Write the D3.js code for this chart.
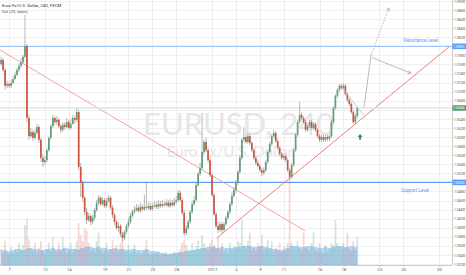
<!DOCTYPE html>
<html><head><meta charset="utf-8">
<script src="https://cdn.jsdelivr.net/npm/d3@7"></script>
<style>html,body{margin:0;padding:0;background:#fff;overflow:hidden}</style>
</head><body><svg id="c" width="466" height="275"></svg>
<script>
const open=[1.0761,1.0770,1.0748,1.0713,1.0717,1.0713,1.0719,1.0728,1.0737,1.0748,
1.0757,1.0765,1.0777,1.0801,1.0642,1.0602,1.0611,1.0598,1.0609,1.0622,
1.0594,1.0554,1.0545,1.0549,1.0571,1.0598,1.0624,1.0642,1.0633,1.0638,
1.0624,1.0616,1.0627,1.0622,1.0633,1.0620,1.0629,1.0642,1.0638,1.0655,
1.0534,1.0499,1.0466,1.0435,1.0417,1.0426,1.0413,1.0422,1.0439,1.0455,
1.0466,1.0452,1.0461,1.0448,1.0459,1.0466,1.0444,1.0428,1.0413,1.0399,
1.0404,1.0386,1.0377,1.0391,1.0404,1.0413,1.0426,1.0435,1.0439,1.0444,
1.0437,1.0446,1.0441,1.0446,1.0444,1.0448,1.0441,1.0448,1.0450,1.0446,
1.0452,1.0448,1.0452,1.0450,1.0455,1.0448,1.0455,1.0450,1.0457,1.0461,
1.0477,1.0461,1.0433,1.0388,1.0399,1.0413,1.0435,1.0452,1.0461,1.0494,
1.0519,1.0532,1.0567,1.0589,1.0571,1.0549,1.0516,1.0472,1.0430,1.0404,
1.0395,1.0408,1.0395,1.0408,1.0422,1.0435,1.0452,1.0470,1.0483,1.0499,
1.0523,1.0554,1.0594,1.0600,1.0589,1.0602,1.0587,1.0571,1.0554,1.0543,
1.0536,1.0527,1.0521,1.0527,1.0545,1.0567,1.0585,1.0602,1.0609,1.0591,
1.0576,1.0563,1.0554,1.0558,1.0549,1.0527,1.0512,1.0538,1.0571,1.0605,
1.0633,1.0649,1.0642,1.0633,1.0616,1.0624,1.0633,1.0620,1.0629,1.0616,
1.0602,1.0594,1.0600,1.0594,1.0600,1.0596,1.0602,1.0633,1.0664,1.0691,
1.0704,1.0713,1.0708,1.0713,1.0695,1.0682,1.0673,1.0655,1.0633,1.0646];
const high=[1.0777,1.0774,1.0752,1.0724,1.0721,1.0726,1.0735,1.0743,1.0752,1.0763,
1.0774,1.0781,1.0869,1.0805,1.0649,1.0620,1.0616,1.0616,1.0629,1.0627,
1.0598,1.0563,1.0558,1.0576,1.0602,1.0629,1.0649,1.0646,1.0646,1.0642,
1.0629,1.0633,1.0633,1.0642,1.0638,1.0638,1.0649,1.0646,1.0664,1.0660,
1.0543,1.0505,1.0470,1.0444,1.0433,1.0430,1.0428,1.0444,1.0461,1.0472,
1.0470,1.0468,1.0466,1.0466,1.0472,1.0470,1.0450,1.0433,1.0417,1.0413,
1.0408,1.0391,1.0395,1.0408,1.0422,1.0433,1.0441,1.0448,1.0452,1.0450,
1.0455,1.0452,1.0472,1.0499,1.0457,1.0455,1.0455,1.0459,1.0457,1.0461,
1.0459,1.0461,1.0459,1.0463,1.0461,1.0463,1.0461,1.0466,1.0470,1.0483,
1.0483,1.0466,1.0439,1.0406,1.0417,1.0439,1.0459,1.0470,1.0499,1.0523,
1.0543,1.0653,1.0594,1.0598,1.0576,1.0554,1.0521,1.0477,1.0435,1.0413,
1.0413,1.0413,1.0413,1.0426,1.0439,1.0457,1.0477,1.0490,1.0505,1.0527,
1.0560,1.0598,1.0622,1.0605,1.0609,1.0607,1.0591,1.0576,1.0558,1.0549,
1.0541,1.0532,1.0534,1.0549,1.0571,1.0589,1.0607,1.0616,1.0613,1.0596,
1.0580,1.0567,1.0563,1.0563,1.0554,1.0532,1.0543,1.0576,1.0609,1.0638,
1.0677,1.0655,1.0646,1.0638,1.0629,1.0638,1.0638,1.0633,1.0633,1.0620,
1.0607,1.0605,1.0605,1.0605,1.0605,1.0607,1.0638,1.0668,1.0695,1.0708,
1.0717,1.0717,1.0719,1.0717,1.0699,1.0686,1.0677,1.0660,1.0651,1.0668];
const low=[1.0757,1.0743,1.0704,1.0708,1.0708,1.0708,1.0717,1.0726,1.0735,1.0743,
1.0752,1.0761,1.0774,1.0633,1.0594,1.0598,1.0591,1.0594,1.0605,1.0587,
1.0545,1.0534,1.0538,1.0543,1.0567,1.0594,1.0620,1.0627,1.0627,1.0620,
1.0609,1.0611,1.0616,1.0620,1.0616,1.0616,1.0627,1.0629,1.0633,1.0527,
1.0468,1.0457,1.0428,1.0408,1.0413,1.0406,1.0408,1.0417,1.0435,1.0450,
1.0448,1.0448,1.0444,1.0444,1.0455,1.0439,1.0422,1.0406,1.0395,1.0391,
1.0380,1.0369,1.0373,1.0386,1.0399,1.0408,1.0422,1.0430,1.0435,1.0433,
1.0433,1.0437,1.0437,1.0439,1.0439,1.0437,1.0437,1.0444,1.0441,1.0441,
1.0444,1.0444,1.0446,1.0446,1.0444,1.0444,1.0446,1.0446,1.0452,1.0457,
1.0457,1.0428,1.0382,1.0384,1.0395,1.0408,1.0430,1.0448,1.0457,1.0490,
1.0514,1.0527,1.0563,1.0567,1.0543,1.0512,1.0468,1.0426,1.0399,1.0388,
1.0391,1.0388,1.0391,1.0404,1.0417,1.0430,1.0448,1.0466,1.0477,1.0494,
1.0519,1.0549,1.0589,1.0585,1.0585,1.0582,1.0567,1.0549,1.0538,1.0532,
1.0523,1.0514,1.0516,1.0523,1.0541,1.0563,1.0580,1.0598,1.0587,1.0571,
1.0558,1.0549,1.0549,1.0545,1.0523,1.0505,1.0508,1.0534,1.0567,1.0600,
1.0629,1.0638,1.0629,1.0611,1.0611,1.0620,1.0616,1.0616,1.0611,1.0598,
1.0589,1.0589,1.0589,1.0589,1.0591,1.0591,1.0598,1.0629,1.0660,1.0686,
1.0699,1.0704,1.0704,1.0691,1.0677,1.0668,1.0651,1.0629,1.0629,1.0642];
const close=[1.0770,1.0748,1.0713,1.0717,1.0713,1.0719,1.0728,1.0737,1.0748,1.0757,
1.0765,1.0777,1.0801,1.0642,1.0602,1.0611,1.0598,1.0609,1.0622,1.0594,
1.0554,1.0545,1.0549,1.0571,1.0598,1.0624,1.0642,1.0633,1.0638,1.0624,
1.0616,1.0627,1.0622,1.0633,1.0620,1.0629,1.0642,1.0638,1.0655,1.0534,
1.0499,1.0466,1.0435,1.0417,1.0426,1.0413,1.0422,1.0439,1.0455,1.0466,
1.0452,1.0461,1.0448,1.0459,1.0466,1.0444,1.0428,1.0413,1.0399,1.0404,
1.0386,1.0377,1.0391,1.0404,1.0413,1.0426,1.0435,1.0439,1.0444,1.0437,
1.0446,1.0441,1.0446,1.0444,1.0448,1.0441,1.0448,1.0450,1.0446,1.0452,
1.0448,1.0452,1.0450,1.0455,1.0448,1.0455,1.0450,1.0457,1.0461,1.0477,
1.0461,1.0433,1.0388,1.0399,1.0413,1.0435,1.0452,1.0461,1.0494,1.0519,
1.0532,1.0567,1.0589,1.0571,1.0549,1.0516,1.0472,1.0430,1.0404,1.0395,
1.0408,1.0395,1.0408,1.0422,1.0435,1.0452,1.0470,1.0483,1.0499,1.0523,
1.0554,1.0594,1.0600,1.0589,1.0602,1.0587,1.0571,1.0554,1.0543,1.0536,
1.0527,1.0521,1.0527,1.0545,1.0567,1.0585,1.0602,1.0609,1.0591,1.0576,
1.0563,1.0554,1.0558,1.0549,1.0527,1.0512,1.0538,1.0571,1.0605,1.0633,
1.0649,1.0642,1.0633,1.0616,1.0624,1.0633,1.0620,1.0629,1.0616,1.0602,
1.0594,1.0600,1.0594,1.0600,1.0596,1.0602,1.0633,1.0664,1.0691,1.0704,
1.0713,1.0708,1.0713,1.0695,1.0682,1.0673,1.0655,1.0633,1.0646,1.0664];
const volume=[16,12,24,13,11,18,12,16,13,22,15,20,
40,46,
26,16,14,22,13,17,24,15,12,16,22,14,
28,15,13,22,14,28,16,12,15,22,13,16,24,
42,30,24,37,35,
22,14,16,13,24,32,15,12,14,22,13,16,25,15,20,14,22,
26,16,13,20,12,14,20,11,13,10,12,14,25,12,10,13,11,12,14,10,12,11,13,10,12,11,14,12,13,16,
22,25,20,16,14,22,15,19,24,16,30,22,17,15,22,25,20,
17,28,15,22,14,16,13,22,15,19,16,24,22,45,20,16,24,32,15,17,14,22,19,30,15,17,25,16,24,14,17,15,22,13,18,15,22,
88,
22,18,16,24,17,15,33,18,16,14,22,33,15,13,22,14,12,20,13,16,22,20,45,22,18,16,22,17,32,16,14,24,15,28];
const volumeMA=[15,15,15,14,14,15,15,16,16,16,15,15,16,17,17,17,16,16,16,15,
15,15,16,16,16,17,17,16,16,16,16,17,17,17,16,16,16,16,15,16,
17,17,18,18,18,18,17,17,18,18,17,17,17,16,16,16,17,17,16,16,
16,16,15,15,15,16,16,16,15,15,15,15,16,16,15,14,14,14,13,13,
12,12,12,11,11,11,12,12,12,13,13,13,14,14,14,15,15,15,16,16,
17,17,17,18,18,18,18,18,17,17,18,18,17,17,17,17,17,18,18,18,
18,19,19,19,19,19,18,18,18,18,19,19,18,18,17,17,16,16,16,15,
15,15,16,17,17,19,19,19,19,18,18,18,18,19,19,19,18,18,18,17,
17,17,18,18,17,17,18,18,19,19,19,19,18,18,18,19,19,18,18,18];
const dayTickIndex=[4,22,34,52,64,76,88,106,118,130,142,160,172,190,202,220];
const dayTickLabels=["7","12","14","19","21","23","28","2017","5","9","11","16","18","23","25","30"];
const priceTicks=[1.090,1.088,1.086,1.084,1.082,1.080,1.078,1.076,1.074,1.072,1.070,1.068,1.066,1.064,1.062,1.060,1.058,1.056,1.054,1.052,1.050,1.048,1.046,1.044,1.042,1.040,1.038,1.036,1.034,1.032];
const resistanceLevel=1.0800, supportLevel=1.0500;
const risingLine=[[108.4,1.0377],[225.4,1.0800]];
const fallingLine=[[-0.6,1.0792],[152.9,1.0393]];
const shortTrend=[[170.9,1.0711],[182.9,1.0644]];
const projUpSolid=[[182.4,1.0666],[185.9,1.0781]];
const projUpDotted=[[185.9,1.0781],[194.9,1.0885]];
const projDown=[[186.4,1.0775],[205.9,1.0741]];
const buySignal=[180.4,1.0600];

const svg=d3.select("#c");
const PR=452, PB=265;
const x=d3.scaleLinear().domain([0,220]).range([1.1,438.9]);
const y=d3.scaleLinear().domain([1.032,1.090]).range([264,1]);
const vy=d3.scaleLinear().domain([0,100]).range([265,165]);
const n=close.length;
const idx=d3.range(n);
const UP="#5f9e76", DN="#d0533f";
const font="Roboto, 'DejaVu Sans', sans-serif";
const fmt=d3.format(".5f");

svg.append("rect").attr("width",466).attr("height",275).attr("fill","#fff");
svg.append("defs").append("clipPath").attr("id","clip").append("rect").attr("width",PR).attr("height",PB);
const g=svg.append("g").attr("clip-path","url(#clip)");

// grid
g.selectAll(".hg").data(priceTicks).join("line").attr("x1",0).attr("x2",PR)
 .attr("y1",d=>Math.round(y(d))+0.5).attr("y2",d=>Math.round(y(d))+0.5).attr("stroke","#eef0f4").attr("stroke-width",1);
g.selectAll(".vg").data(dayTickIndex).join("line").attr("y1",0).attr("y2",PB)
 .attr("x1",d=>Math.round(x(d))+0.5).attr("x2",d=>Math.round(x(d))+0.5).attr("stroke","#eef0f4").attr("stroke-width",1);

// watermark
g.append("text").attr("x",143).attr("y",135).attr("font-family","Lato, 'Open Sans', sans-serif").attr("font-size",31)
 .attr("fill","#e6e6e8").text("EURUSD, 240");
g.append("text").attr("x",167).attr("y",157).attr("font-family","Lato, 'Open Sans', sans-serif").attr("font-size",15)
 .attr("fill","#e6e6e8").text("Euro Fx/U.S. Dollar");

// volume MA area
g.append("path").datum(idx).attr("fill","rgba(66,165,245,0.42)")
 .attr("d",d3.area().x(i=>x(i)).y0(vy(0)).y1(i=>vy(volumeMA[i])).curve(d3.curveStepAfter));
// volume bars
g.selectAll(".vb").data(idx).join("rect")
 .attr("x",i=>x(i)-0.9).attr("width",1.8).attr("y",i=>vy(volume[i])).attr("height",i=>vy(0)-vy(volume[i]))
 .attr("fill",i=>close[i]>=open[i]?"rgba(107,165,131,0.28)":"rgba(215,84,66,0.22)");

// support / resistance
[resistanceLevel,supportLevel].forEach((lv,k)=>{
 g.append("line").attr("x1",0).attr("x2",PR).attr("y1",y(lv)).attr("y2",y(lv))
  .attr("stroke",k?"#5b9cf6":"#8fbaf7").attr("stroke-width",k?1.3:1);
});
g.append("text").attr("x",x(211)).attr("y",y(resistanceLevel)-4).attr("text-anchor","middle")
 .attr("font-family",font).attr("font-size",4.6).attr("fill","#5b9cf6").text("Resistance Level");
g.append("text").attr("x",x(208)).attr("y",y(supportLevel)+10).attr("text-anchor","middle")
 .attr("font-family",font).attr("font-size",4.6).attr("fill","#5b9cf6").text("Support Level");

// trend lines
const ln=d3.line().x(d=>x(d[0])).y(d=>y(d[1]));
g.append("path").attr("d",ln(fallingLine)).attr("stroke","#f5a3a3").attr("stroke-width",1).attr("fill","none");
g.append("path").attr("d",ln(risingLine)).attr("stroke","#f27c7c").attr("stroke-width",1).attr("fill","none");

// last price line
g.append("line").attr("x1",0).attr("x2",PR).attr("y1",y(close[n-1])).attr("y2",y(close[n-1]))
 .attr("stroke","#dfe6e1").attr("stroke-width",1.5);

// candles
g.selectAll(".wk").data(idx).join("line")
 .attr("x1",i=>x(i)).attr("x2",i=>x(i)).attr("y1",i=>y(high[i])).attr("y2",i=>y(low[i]))
 .attr("stroke","#9b9b9b").attr("stroke-width",0.7);
g.selectAll(".bd").data(idx).join("rect")
 .attr("x",i=>x(i)-0.85).attr("width",1.7)
 .attr("y",i=>y(Math.max(open[i],close[i])))
 .attr("height",i=>Math.max(0.8,Math.abs(y(open[i])-y(close[i]))))
 .attr("fill",i=>close[i]>=open[i]?UP:DN);

// annotations
g.append("path").attr("d",ln(shortTrend)).attr("stroke","#9fd0ae").attr("stroke-width",0.8).attr("fill","none");
g.append("path").attr("d",ln(projUpSolid)).attr("stroke","#a8a8a8").attr("stroke-width",0.8).attr("fill","none");
g.append("path").attr("d",ln(projUpDotted)).attr("stroke","#a8a8a8").attr("stroke-width",0.8).attr("stroke-dasharray","1.5,1.5").attr("fill","none");
g.append("path").attr("d",ln(projDown)).attr("stroke","#a8a8a8").attr("stroke-width",0.8).attr("fill","none");
function arrowHead(p0,p1){
 const ax=x(p1[0]),ay=y(p1[1]),bx=x(p0[0]),by=y(p0[1]);
 const a=Math.atan2(ay-by,ax-bx), L=3.5, w=0.5;
 const pts=[[ax,ay],[ax-L*Math.cos(a-w),ay-L*Math.sin(a-w)],[ax-L*Math.cos(a+w),ay-L*Math.sin(a+w)]];
 g.append("path").attr("d","M"+pts[1]+"L"+pts[0]+"L"+pts[2]).attr("stroke","#a8a8a8").attr("stroke-width",0.8).attr("fill","none");
}
arrowHead(projUpDotted[0],projUpDotted[1]);
arrowHead(projDown[0],projDown[1]);
{const cx=x(buySignal[0]),cy=y(buySignal[1]);
 g.append("path").attr("d",`M${cx},${cy-3}L${cx+2.4},${cy}L${cx+0.9},${cy}L${cx+0.9},${cy+2.6}L${cx-0.9},${cy+2.6}L${cx-0.9},${cy}L${cx-2.4},${cy}Z`).attr("fill","#2e8b57");}

// axes frame
svg.append("line").attr("x1",PR+0.5).attr("x2",PR+0.5).attr("y1",0).attr("y2",PB).attr("stroke","#c8cbd0");
svg.append("line").attr("x1",0).attr("x2",PR).attr("y1",PB+0.5).attr("y2",PB+0.5).attr("stroke","#c8cbd0");

const special=[resistanceLevel,supportLevel,close[n-1]];
const visibleTicks=priceTicks.filter(t=>special.every(s=>Math.abs(y(t)-y(s))>5));
const yAxis=d3.axisRight(y).tickValues(visibleTicks).tickFormat(fmt).tickSize(1).tickPadding(0.8);
const ya=svg.append("g").attr("transform",`translate(${PR+0.5},0)`).call(yAxis);
ya.select(".domain").remove();
ya.selectAll("text").attr("font-family",font).attr("font-size",3.5).attr("fill","#555")
 .attr("textLength",11).attr("lengthAdjust","spacingAndGlyphs");
ya.selectAll("line").attr("stroke","#c8cbd0");

const xAxis=d3.axisBottom(x).tickValues(dayTickIndex).tickFormat((d,i)=>dayTickLabels[i]).tickSize(1.5).tickPadding(1.5);
const xa=svg.append("g").attr("transform",`translate(0,${PB+0.5})`).call(xAxis);
xa.select(".domain").remove();
xa.selectAll("text").attr("font-family",font).attr("font-size",4.2).attr("fill","#555");
xa.selectAll("line").attr("stroke","#c8cbd0");

function axisLabel(v,col){
 const yy=y(v);
 svg.append("rect").attr("x",PR+0.5).attr("y",yy-2.8).attr("width",13.5).attr("height",5.6).attr("fill",col);
 svg.append("text").attr("x",PR+1.5).attr("y",yy+1.3).attr("font-family",font).attr("font-size",3.5).attr("fill","#fff")
  .attr("textLength",11).attr("lengthAdjust","spacingAndGlyphs").text(fmt(v));
}
axisLabel(resistanceLevel,"#5b9cf6");
axisLabel(supportLevel,"#5b9cf6");
axisLabel(close[n-1],"#5f9e76");

svg.append("text").attr("x",2).attr("y",6.5).attr("font-family",font).attr("font-size",4.4).attr("fill","#333").text("Euro Fx/U.S. Dollar, 240, FXCM");
svg.append("text").attr("x",2).attr("y",12.5).attr("font-family",font).attr("font-size",4.2).attr("fill","#555").text("Vol (20, false)");
</script></body></html>
